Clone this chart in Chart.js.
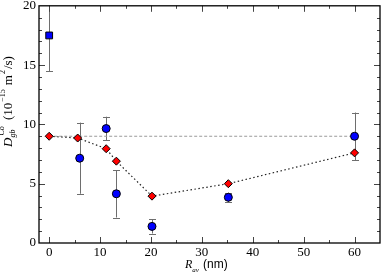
<!DOCTYPE html>
<html>
<head>
<meta charset="utf-8">
<script src="https://cdn.jsdelivr.net/npm/chart.js@4"></script>
<style>
    html, body { margin: 0; padding: 0; background: #fff; }
    #wrap { width: 382px; height: 273px; }
</style>
</head>
<body>
<div id="wrap"><canvas id="chart"></canvas></div>
<script>
// grain size R_av (nm) and D_gb values (10^-15 m^2/s)
const redRadius = [0, 5.6, 11.2, 13.2, 20.2, 35.2, 60];
const redValues = [9.0, 8.85, 7.95, 6.9, 3.95, 5.0, 7.6];

const blueRadius = [6, 11.2, 13.2, 20.2, 35.2, 60];
const blueValues = [7.15, 9.65, 4.15, 1.4, 3.85, 9.0];
const blueErrors = [3.0, 1.0, 2.0, 0.6, 0.4, 2.0];

const squareRadius = [0];
const squareValues = [17.5];
const squareErrors = [3.0];

const refRadius = [0, 60];
const refValues = [9.0, 9.0];

const xTicks = [0, 10, 20, 30, 40, 50, 60];
const yTicks = [0, 5, 10, 15, 20];
const xMinorStep = 5;
const yMinorStep = 1;

const serif = "'Liberation Serif', 'Times New Roman', serif";
const sans = "'Liberation Sans', Arial, sans-serif";

function toPoints(xs, ys) {
    return xs.map((x, i) => ({ x: x, y: ys[i] }));
}

// chart.js keeps a few px free on the right, stretch the plot to 2px from the edge
const widenArea = {
    id: 'widenArea',
    afterLayout(chart) {
        const right = chart.width - 2;
        const xs = chart.scales.x;
        chart.chartArea.right = right;
        chart.chartArea.width = right - chart.chartArea.left;
        xs.right = right;
        xs.width = right - xs.left;
        xs.configure();
    }
};

const errorBars = {
    id: 'errorBars',
    beforeDatasetsDraw(chart) {
        const ctx = chart.ctx;
        const area = chart.chartArea;
        const yScale = chart.scales.y;
        ctx.save();
        ctx.beginPath();
        ctx.rect(area.left, area.top, area.right - area.left, area.bottom - area.top);
        ctx.clip();
        ctx.strokeStyle = '#6e6e6e';
        ctx.lineWidth = 1;
        chart.data.datasets.forEach((ds, di) => {
            if (!ds.errors) return;
            const meta = chart.getDatasetMeta(di);
            meta.data.forEach((pt, i) => {
                const v = ds.data[i].y;
                const e = ds.errors[i];
                const x = Math.round(pt.x) + 0.5;
                const top = yScale.getPixelForValue(v + e);
                const bot = yScale.getPixelForValue(v - e);
                ctx.beginPath();
                ctx.moveTo(x, top);
                ctx.lineTo(x, bot);
                ctx.moveTo(x - 3.5, Math.round(top) + 0.5);
                ctx.lineTo(x + 3.5, Math.round(top) + 0.5);
                ctx.moveTo(x - 3.5, Math.round(bot) + 0.5);
                ctx.lineTo(x + 3.5, Math.round(bot) + 0.5);
                ctx.stroke();
            });
        });
        ctx.restore();
    }
};

const frameTicks = {
    id: 'frameTicks',
    afterDatasetsDraw(chart) {
        const ctx = chart.ctx;
        const a = chart.chartArea;
        const xs = chart.scales.x;
        const ys = chart.scales.y;
        ctx.save();
        ctx.strokeStyle = '#444';
        ctx.lineWidth = 1;
        ctx.beginPath();
        for (let v = 0; v < xs.max; v += xMinorStep) {
            const px = Math.round(xs.getPixelForValue(v)) + 0.5;
            const len = xTicks.includes(v) ? 6 : 3;
            ctx.moveTo(px, a.bottom); ctx.lineTo(px, a.bottom - len);
            ctx.moveTo(px, a.top); ctx.lineTo(px, a.top + len);
        }
        for (let v = ys.min + yMinorStep; v < ys.max; v += yMinorStep) {
            const py = Math.round(ys.getPixelForValue(v)) + 0.5;
            const len = yTicks.includes(v) ? 6 : 3;
            ctx.moveTo(a.left, py); ctx.lineTo(a.left + len, py);
            ctx.moveTo(a.right, py); ctx.lineTo(a.right - len, py);
        }
        ctx.stroke();
        ctx.strokeStyle = '#000';
        ctx.lineWidth = 1.3;
        ctx.strokeRect(a.left, a.top, a.right - a.left, a.bottom - a.top);
        ctx.restore();
    }
};

const axisTitles = {
    id: 'axisTitles',
    afterDraw(chart) {
        const ctx = chart.ctx;
        ctx.save();
        ctx.fillStyle = '#000';
        ctx.textBaseline = 'alphabetic';
        ctx.textAlign = 'left';

        // x title: R_av (nm)
        let x = 185;
        ctx.font = 'italic 12px ' + serif;
        ctx.fillText('R', x, 268);
        x += ctx.measureText('R').width;
        ctx.font = 'italic 7px ' + serif;
        ctx.fillText('av', x, 272);
        ctx.font = '12px ' + sans;
        ctx.fillText('(nm)', 203, 268);

        // y title: D_gb^Co (10^-15 m^2/s), rotated
        ctx.translate(12, 147);
        ctx.rotate(-Math.PI / 2);
        let p = 0;
        ctx.font = 'italic 13px ' + serif;
        ctx.fillText('D', p, 0);
        p += ctx.measureText('D').width;
        ctx.font = 'italic 8px ' + serif;
        ctx.fillText('gb', p, 3);
        ctx.fillText('Co', p + 2, -8);
        p = 27;
        ctx.font = '13px ' + serif;
        ctx.fillText('(10', p, 0);
        p += ctx.measureText('(10').width + 1;
        ctx.font = '8px ' + serif;
        ctx.fillText('\u221215', p, -7);
        p += ctx.measureText('\u221215').width + 4;
        ctx.font = '13px ' + serif;
        ctx.fillText('m', p, 0);
        p += ctx.measureText('m').width + 1;
        ctx.font = '8px ' + serif;
        ctx.fillText('2', p, -7);
        p += ctx.measureText('2').width + 1;
        ctx.font = '13px ' + serif;
        ctx.fillText('/s)', p, 0);
        ctx.restore();
    }
};

new Chart(document.getElementById('chart'), {
    type: 'scatter',
    data: {
        datasets: [
            {
                label: 'square',
                data: toPoints(squareRadius, squareValues),
                errors: squareErrors,
                pointStyle: 'rect',
                pointRadius: 4.8,
                backgroundColor: '#0000ff',
                borderColor: '#000',
                borderWidth: 1,
                order: 1
            },
            {
                label: 'blue',
                data: toPoints(blueRadius, blueValues),
                errors: blueErrors,
                pointStyle: 'circle',
                pointRadius: 4,
                backgroundColor: '#0000ff',
                borderColor: '#000',
                borderWidth: 1,
                order: 2
            },
            {
                label: 'red',
                data: toPoints(redRadius, redValues),
                showLine: true,
                borderDash: [1.5, 2.5],
                borderColor: '#222',
                borderWidth: 1.2,
                pointStyle: 'rectRot',
                pointRadius: 4,
                pointBackgroundColor: '#ff0000',
                pointBorderColor: '#000',
                pointBorderWidth: 1,
                order: 3
            },
            {
                label: 'reference',
                data: toPoints(refRadius, refValues),
                showLine: true,
                borderDash: [3, 2],
                borderColor: '#9a9a9a',
                borderWidth: 1.2,
                pointRadius: 0,
                order: 4
            }
        ]
    },
    options: {
        responsive: true,
        maintainAspectRatio: false,
        animation: false,
        layout: { padding: { top: 5, right: 0, left: 0, bottom: 0 } },
        plugins: {
            legend: { display: false },
            tooltip: { enabled: false }
        },
        scales: {
            x: {
                type: 'linear',
                min: -2,
                max: 65,
                grid: { display: false, drawTicks: false },
                border: { display: false },
                afterBuildTicks: s => { s.ticks = xTicks.map(v => ({ value: v })); },
                afterFit: s => { s.height = 30; s.paddingLeft = 0; s.paddingRight = 0; },
                ticks: {
                    padding: 2,
                    color: '#000',
                    maxRotation: 0,
                    autoSkip: false,
                    font: { family: serif, size: 13 }
                }
            },
            y: {
                type: 'linear',
                min: 0,
                max: 20,
                grid: { display: false, drawTicks: false },
                border: { display: false },
                afterBuildTicks: s => { s.ticks = yTicks.map(v => ({ value: v })); },
                afterFit: s => { s.width = 39; s.paddingTop = 0; s.paddingBottom = 0; },
                ticks: {
                    padding: 3,
                    color: '#000',
                    font: { family: serif, size: 13 }
                }
            }
        }
    },
    plugins: [widenArea, errorBars, frameTicks, axisTitles]
});
</script>
</body>
</html>
